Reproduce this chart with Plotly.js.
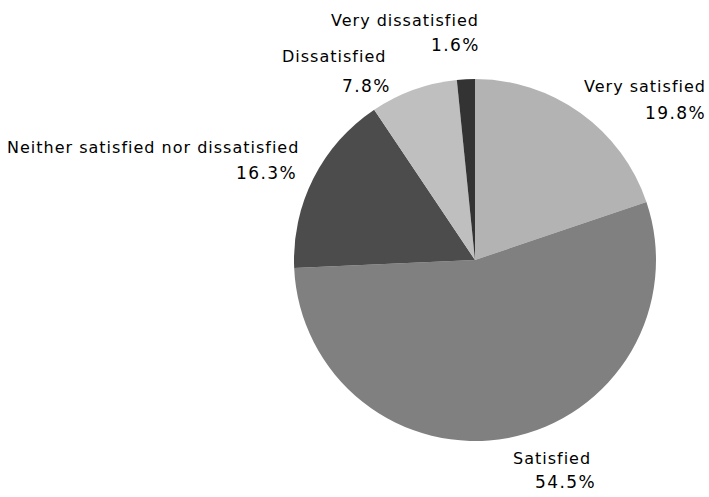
<!DOCTYPE html>
<html>
<head>
<meta charset="utf-8">
<script src="https://cdn.plot.ly/plotly-3.0.1.min.js"></script>
<style>
  html, body { margin: 0; padding: 0; background: #fff; }
  #chart { width: 709px; height: 497px; }
  .annotation-text { letter-spacing: 1px; }
</style>
</head>
<body>
<div id="chart"></div>
<script>
const categories = ["Very satisfied", "Satisfied", "Neither satisfied nor dissatisfied", "Dissatisfied", "Very dissatisfied"];
const percentages = [19.8, 54.5, 16.3, 7.8, 1.6];
const sliceColors = ["#b3b3b3", "#808080", "#4c4c4c", "#bfbfbf", "#333333"];

// label placement (pixel right edge, label line centre y, percent line right edge, percent line centre y)
const W = 709, H = 497;
const labelPos = [
  [707, 86, 707, 113],
  [592, 458, 597, 482],
  [300, 148, 298, 173],
  [387, 57, 392, 86],
  [480, 21, 481, 45]
];

const labelFont = { family: "DejaVu Sans, Verdana, sans-serif", size: 16, color: "#000" };
const pctFont = { family: "DejaVu Sans, Verdana, sans-serif", size: 17, color: "#000" };
const annotations = [];
categories.forEach((c, i) => {
  const p = labelPos[i];
  annotations.push({ text: c, x: p[0] / W, y: 1 - p[1] / H, xref: "paper", yref: "paper",
    xanchor: "right", yanchor: "middle", showarrow: false, font: labelFont, borderpad: 0 });
  annotations.push({ text: '<span style="letter-spacing:1.4px">' + percentages[i].toFixed(1) + "%</span>",
    x: p[2] / W, y: 1 - p[3] / H, xref: "paper", yref: "paper",
    xanchor: "right", yanchor: "middle", showarrow: false, font: pctFont, borderpad: 0 });
});

const cx = 475, cy = 260, r = 181;
const data = [{
  type: "pie",
  labels: categories,
  values: percentages,
  sort: false,
  direction: "clockwise",
  rotation: 0,
  textinfo: "none",
  hoverinfo: "label+percent",
  marker: { colors: sliceColors, line: { width: 0 } },
  domain: { x: [(cx - r) / W, (cx + r) / W], y: [1 - (cy + r) / H, 1 - (cy - r) / H] },
  showlegend: false
}];

const layout = {
  width: W, height: H,
  margin: { l: 0, r: 0, t: 0, b: 0 },
  paper_bgcolor: "#fff",
  plot_bgcolor: "#fff",
  showlegend: false,
  annotations: annotations
};

Plotly.newPlot("chart", data, layout, { displayModeBar: false, staticPlot: true });
</script>
</body>
</html>
